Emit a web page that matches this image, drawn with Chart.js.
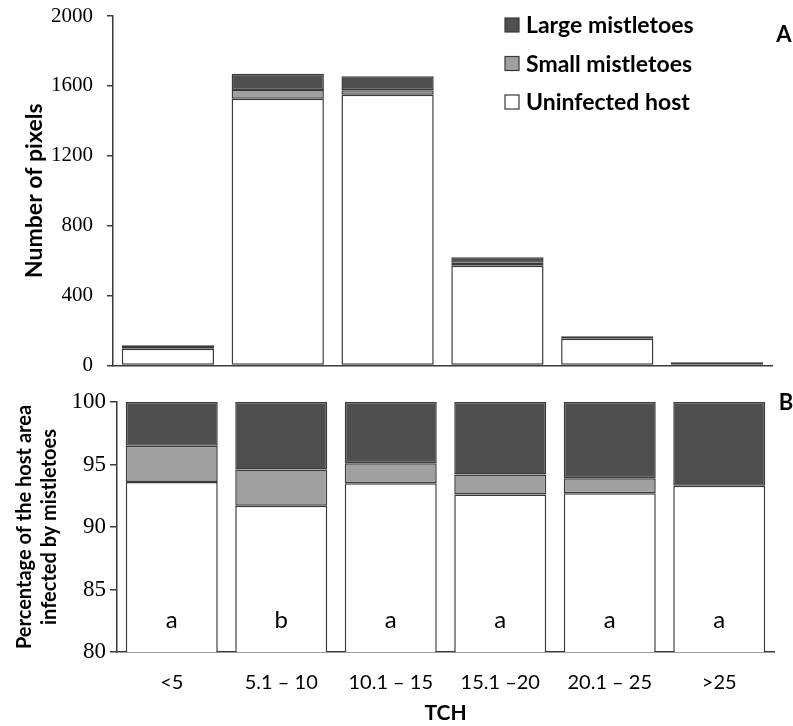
<!DOCTYPE html>
<html>
<head>
<meta charset="utf-8">
<script src="https://cdn.jsdelivr.net/npm/chart.js@4.4.1/dist/chart.umd.min.js"></script>
<style>
  html, body { margin: 0; padding: 0; background: #fff; overflow: hidden; }
  #wrap { position: relative; width: 793px; height: 726px; }
  #chartB { position: absolute; left: 0; top: 380px; width: 793px; height: 346px; }
  /* panel A canvas starts a little above the page so tick padding fits */
  #chartA { position: absolute; left: 0; top: -12px; width: 793px; height: 404px; z-index: 2; }
</style>
</head>
<body>
<div id="wrap">
  <canvas id="chartB" width="793" height="346"></canvas>
  <canvas id="chartA" width="793" height="404"></canvas>
</div>
<script>
// ── data ─────────────────────────────────────────────────────────────
var categories = ['<5', '5.1 \u2013 10', '10.1 \u2013 15', '15.1 \u201320', '20.1 \u2013 25', '>25'];

// panel A: number of pixels
var pixUninfected = [95, 1527, 1549, 571, 152, 14];
var pixSmall      = [5, 50, 26, 16, 5, 1];
var pixLarge      = [15, 92, 80, 32, 10, 4];

// panel B: percentage of host area
var pctUninfected = [93.6, 91.7, 93.5, 92.6, 92.7, 93.3];
var pctSmall      = [2.9, 2.9, 1.6, 1.6, 1.2, 0];
var pctLarge      = [3.5, 5.4, 4.9, 5.8, 6.1, 6.7];

var letters = ['a', 'b', 'a', 'a', 'a', 'a'];

var seriesNames = ['Uninfected host', 'Small mistletoes', 'Large mistletoes'];
var yTicksA = [0, 400, 800, 1200, 1600, 2000];
var yTicksB = [80, 85, 90, 95, 100];

// ── style ────────────────────────────────────────────────────────────
var COL_WHITE = '#ffffff';
var COL_SMALL = '#a0a0a0';
var COL_LARGE = '#4f4f4f';
var EDGE = '#3a3a3a';
var SANS = 'Lato, "Open Sans", sans-serif';
var SERIF = '"Liberation Serif", "Times New Roman", serif';

function datasets(u, s, l) {
  var cols = [COL_WHITE, COL_SMALL, COL_LARGE];
  return [u, s, l].map(function (vals, i) {
    return {
      label: seriesNames[i],
      data: vals,
      backgroundColor: cols[i],
      borderColor: EDGE,
      borderWidth: 1.5,
      borderSkipped: false,
      barPercentage: 0.84,
      categoryPercentage: 1.0
    };
  });
}

function plain(v) { return String(v); }

var panelLabel = {
  id: 'panelLabel',
  afterDraw: function (chart, args, opts) {
    var ctx = chart.ctx, ca = chart.chartArea;
    ctx.save();
    ctx.fillStyle = '#000';
    ctx.font = 'bold 22px ' + SANS;
    ctx.textAlign = 'center';
    ctx.textBaseline = 'middle';
    ctx.fillText(opts.text, ca.right + 12, ca.top + opts.dy);
    ctx.restore();
  }
};

var legendA = {
  id: 'legendA',
  afterDraw: function (chart) {
    var ctx = chart.ctx, ca = chart.chartArea;
    var ds = chart.data.datasets.slice().reverse();
    ctx.save();
    ctx.font = 'bold 23px ' + SANS;
    ctx.textBaseline = 'middle';
    ctx.textAlign = 'left';
    ds.forEach(function (d, i) {
      var cy = ca.top + 9 + i * 38.5;
      ctx.fillStyle = d.backgroundColor;
      ctx.fillRect(505, cy - 7, 14, 14);
      ctx.strokeStyle = EDGE;
      ctx.lineWidth = 1.2;
      ctx.strokeRect(505, cy - 7, 14, 14);
      ctx.fillStyle = '#000';
      ctx.fillText(d.label, 526, cy + 1);
    });
    ctx.restore();
  }
};

var lettersB = {
  id: 'lettersB',
  afterDatasetsDraw: function (chart) {
    var ctx = chart.ctx, xs = chart.scales.x, ca = chart.chartArea;
    ctx.save();
    ctx.fillStyle = '#000';
    ctx.font = '24px ' + SANS;
    ctx.textAlign = 'center';
    ctx.textBaseline = 'alphabetic';
    letters.forEach(function (t, i) {
      ctx.fillText(t, xs.getPixelForValue(i), ca.bottom - 24);
    });
    ctx.restore();
  }
};

// ── panel A ──────────────────────────────────────────────────────────
new Chart(document.getElementById('chartA'), {
  type: 'bar',
  data: { labels: categories, datasets: datasets(pixUninfected, pixSmall, pixLarge) },
  plugins: [legendA, panelLabel],
  options: {
    responsive: false,
    animation: false,
    layout: { padding: { top: 28, right: 21, left: 0, bottom: 0 } },
    plugins: {
      legend: { display: false },
      tooltip: { enabled: false },
      panelLabel: { text: 'A', dy: 19 }
    },
    scales: {
      x: {
        stacked: true,
        ticks: { display: false },
        grid: { display: false, drawTicks: false },
        border: { display: true, color: EDGE, width: 1.5 },
        afterFit: function (s) { s.height = 26; }
      },
      y: {
        stacked: true,
        min: 0, max: 2000,
        afterBuildTicks: function (s) { s.ticks = yTicksA.map(function (v) { return { value: v }; }); },
        ticks: { color: '#000', padding: 14, callback: plain, font: { family: SERIF, size: 21 } },
        grid: { drawOnChartArea: false, drawTicks: true, tickLength: 6, color: EDGE, lineWidth: 1.5 },
        border: { display: true, color: EDGE, width: 1.5 },
        title: {
          display: true, text: 'Number of pixels', color: '#000',
          font: { family: SANS, size: 23, weight: 'bold', lineHeight: 1.2 },
          padding: { top: 21, bottom: 0 }
        },
        afterFit: function (s) { s.width = 113; }
      }
    }
  }
});

// ── panel B ──────────────────────────────────────────────────────────
new Chart(document.getElementById('chartB'), {
  type: 'bar',
  data: { labels: categories, datasets: datasets(pctUninfected, pctSmall, pctLarge) },
  plugins: [lettersB, panelLabel],
  options: {
    responsive: false,
    animation: false,
    layout: { padding: { top: 22, right: 19, left: 0, bottom: 0 } },
    plugins: {
      legend: { display: false },
      tooltip: { enabled: false },
      panelLabel: { text: 'B', dy: 1 }
    },
    scales: {
      x: {
        stacked: true,
        ticks: { color: '#000', padding: 19, font: { family: SANS, size: 20 } },
        grid: { display: false, drawTicks: false },
        border: { display: true, color: EDGE, width: 1.5 },
        title: {
          display: true, text: 'TCH', color: '#000',
          font: { family: SANS, size: 21, weight: 'bold', lineHeight: 1.2 },
          padding: { top: 0, bottom: 0 }
        },
        afterFit: function (s) { s.height = 74; }
      },
      y: {
        stacked: true,
        min: 80, max: 100,
        afterBuildTicks: function (s) { s.ticks = yTicksB.map(function (v) { return { value: v }; }); },
        ticks: { color: '#000', padding: 4, callback: plain, font: { family: SERIF, size: 23 } },
        grid: { drawOnChartArea: false, drawTicks: true, tickLength: 7, color: EDGE, lineWidth: 1.5 },
        border: { display: true, color: EDGE, width: 1.5 },
        title: {
          display: true, text: ['Percentage of the host area', 'infected by mistletoes'], color: '#000',
          font: { family: SANS, size: 20, weight: 'bold', lineHeight: 1.25 },
          padding: { top: 12, bottom: 0 }
        },
        afterFit: function (s) { s.width = 117; }
      }
    }
  }
});
</script>
</body>
</html>
